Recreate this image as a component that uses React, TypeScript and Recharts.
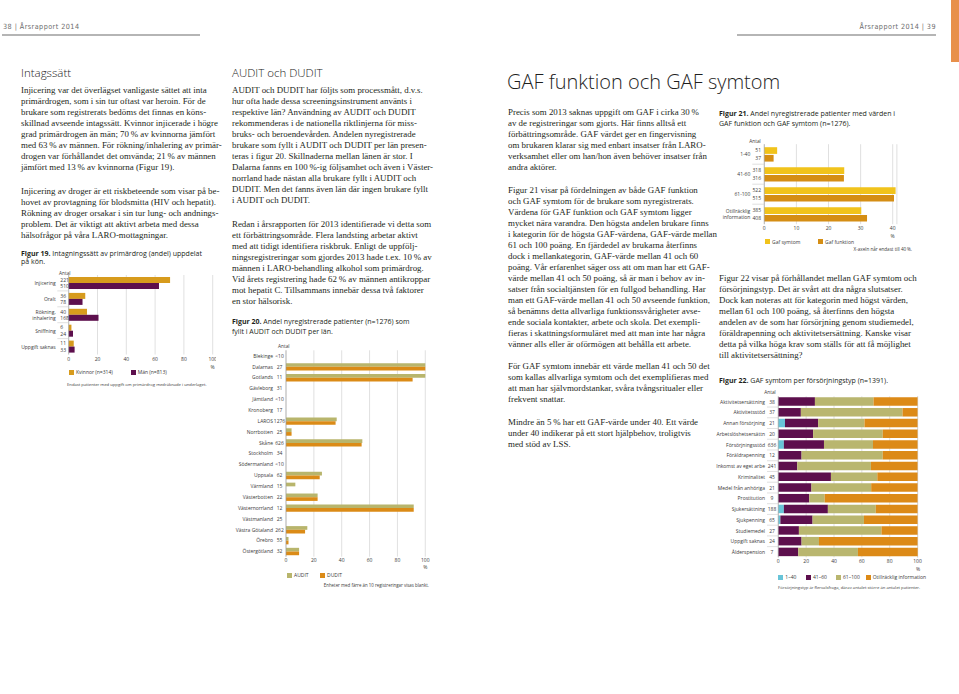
import React from 'react';
import { BarChart, Bar, XAxis, YAxis, CartesianGrid } from 'recharts';

const SANS = '"Open Sans", "Noto Sans", sans-serif';
const SERIF = '"Liberation Serif", "DejaVu Serif", serif';
const NARROW = '"Liberation Sans Narrow", "DejaVu Sans Condensed", sans-serif';
const GRID = '#cbcbcb';
const LABEL = '#3a3a3a';
const INK = '#231f20';

// Figur 19 - intagningssätt
const intakeCategories = ['Injicering', 'Oralt', 'Rökning,\ninhalering', 'Sniffning', 'Uppgift saknas'];
const womenCounts = ['221', '36', '40', '6', '11'];
const menCounts = ['510', '78', '168', '24', '33'];
const womenShare = [70.4, 11.5, 12.7, 1.9, 3.5];
const menShare = [62.7, 9.6, 20.7, 3.0, 4.1];
const percentTicks = [0, 20, 40, 60, 80, 100];

// Figur 20 - AUDIT/DUDIT per län
const counties = ['Blekinge', 'Dalarnas', 'Gotlands', 'Gävleborg', 'Jämtland', 'Kronoberg', 'LAROS', 'Norrbotten', 'Skåne', 'Stockholm', 'Södermanland', 'Uppsala', 'Värmland', 'Västerbotten', 'Västernorrland', 'Västmanland', 'Västra Götaland', 'Örebro', 'Östergötland'];
const countyCounts = ['<10', '27', '11', '31', '<10', '17', '1276', '25', '626', '34', '<10', '62', '15', '22', '12', '25', '262', '55', '32'];
const auditShare = [null, 100, 100, 0, null, 0, 36.4, 4, 54.8, 0, null, 25.8, 6.7, 22.7, 91.7, 0, 15.3, 1.8, 9.4];
const duditShare = [null, 100, 90.9, 0, null, 0, 35.6, 4, 54.3, 0, null, 24.2, 0, 22.7, 91.7, 0, 13.7, 1.8, 9.4];

// Figur 21 - GAF funktion och symtom
const gafGroups = ['1-40', '41-60', '61-100', 'Otillräcklig\ninformation'];
const symptomCounts = ['51', '318', '522', '385'];
const functionCounts = ['37', '316', '515', '408'];
const symptomShare = [4.0, 24.9, 40.9, 30.2];
const functionShare = [2.9, 24.8, 40.4, 32.0];
const gafTicks = [0, 10, 20, 30, 40];

// Figur 22 - GAF symtom per försörjningstyp
const supportTypes = ['Aktivitetsersättning', 'Aktivitetsstöd', 'Annan försörjning', 'Arbetslöshetsersättn', 'Försörjningsstöd', 'Föräldrapenning', 'Inkomst av eget arbe', 'Kriminalitet', 'Medel från anhöriga', 'Prostitution', 'Sjukersättning', 'Sjukpenning', 'Studiemedel', 'Uppgift saknas', 'Ålderspension'];
const supportCounts = ['38', '37', '21', '20', '636', '12', '241', '45', '21', '9', '188', '65', '27', '24', '7'];
const gafLow = [0, 0, 4.8, 0, 4.0, 0, 0, 0, 0, 0, 4.0, 1.5, 0, 0, 0];
const gafMid = [26.3, 16.2, 23.8, 25, 28.8, 16.7, 13.6, 37.8, 23.8, 22.2, 31.6, 23.1, 14.8, 16.7, 14.3];
const gafHigh = [42.1, 73, 33.3, 50, 35.2, 58.3, 52.9, 33.3, 42.9, 11.1, 34.4, 36.9, 59.3, 12.5, 42.9];
const gafMissing = [31.6, 10.8, 38.1, 25, 32.0, 25, 33.5, 28.9, 33.3, 66.7, 30.0, 38.5, 25.9, 70.8, 42.9];

const C = {
  women: '#d79b1d', men: '#5d0f4d',
  audit: '#b8b56c', dudit: '#db8b17',
  symptom: '#f1c31b', func: '#d58e14',
  low: '#68c4d8', mid: '#5d0f4d', high: '#b9b66f', missing: '#dc8a17',
};

// Brödtext
const intakeText1 = [
  'Injicering var det överlägset vanligaste sättet att inta',
  'primärdrogen, som i sin tur oftast var heroin. För de',
  'brukare som registrerats bedöms det finnas en köns-',
  'skillnad avseende intagssätt. Kvinnor injicerade i högre',
  'grad primärdrogen än män; 70\u2009% av kvinnorna jämfört',
  'med 63\u2009% av männen. För rökning/inhalering av primär-',
  'drogen var förhållandet det omvända; 21\u2009% av männen',
  'jämfört med 13\u2009% av kvinnorna (Figur 19).',
];
const intakeText2 = [
  'Injicering av droger är ett riskbeteende som visar på be-',
  'hovet av provtagning för blodsmitta (HIV och hepatit).',
  'Rökning av droger orsakar i sin tur lung- och andnings-',
  'problem. Det är viktigt att aktivt arbeta med dessa',
  'hälsofrågor på våra LARO-mottagningar.',
];
const auditText1 = [
  'AUDIT och DUDIT har följts som processmått, d.v.s.',
  'hur ofta hade dessa screeningsinstrument använts i',
  'respektive län? Användning av AUDIT och DUDIT',
  'rekommenderas i de nationella riktlinjerna för miss-',
  'bruks- och beroendevården. Andelen nyregistrerade',
  'brukare som fyllt i AUDIT och DUDIT per län presen-',
  'teras i figur 20. Skillnaderna mellan länen är stor. I',
  'Dalarna fanns en 100\u2009%-ig följsamhet och även i Väster-',
  'norrland hade nästan alla brukare fyllt i AUDIT och',
  'DUDIT. Men det fanns även län där ingen brukare fyllt',
  'i AUDIT och DUDIT.',
];
const auditText2 = [
  'Redan i årsrapporten för 2013 identifierade vi detta som',
  'ett förbättringsområde. Flera landsting arbetar aktivt',
  'med att tidigt identifiera riskbruk. Enligt de uppfölj-',
  'ningsregistreringar som gjordes 2013 hade t.ex. 10\u2009% av',
  'männen i LARO-behandling alkohol som primärdrog.',
  'Vid årets registrering hade 62\u2009% av männen antikroppar',
  'mot hepatit C. Tillsammans innebär dessa två faktorer',
  'en stor hälsorisk.',
];
const gafText1 = [
  'Precis som 2013 saknas uppgift om GAF i cirka 30\u2009%',
  'av de registreringar som gjorts. Här finns alltså ett',
  'förbättringsområde. GAF värdet ger en fingervisning',
  'om brukaren klarar sig med enbart insatser från LARO-',
  'verksamhet eller om han/hon även behöver insatser från',
  'andra aktörer.',
];
const gafText2 = [
  'Figur 21 visar på fördelningen av både GAF funktion',
  'och GAF symtom för de brukare som nyregistrerats.',
  'Värdena för GAF funktion och GAF symtom ligger',
  'mycket nära varandra. Den högsta andelen brukare finns',
  'i kategorin för de högsta GAF-värdena, GAF-värde mellan',
  '61 och 100 poäng. En fjärdedel av brukarna återfinns',
  'dock i mellankategorin, GAF-värde mellan 41 och 60',
  'poäng. Vår erfarenhet säger oss att om man har ett GAF-',
  'värde mellan 41 och 50 poäng, så är man i behov av in-',
  'satser från socialtjänsten för en fullgod behandling. Har',
  'man ett GAF-värde mellan 41 och 50 avseende funktion,',
  'så benämns detta allvarliga funktionssvårigheter avse-',
  'ende sociala kontakter, arbete och skola. Det exempli-',
  'fieras i skattningsformuläret med att man inte har några',
  'vänner alls eller är oförmögen att behålla ett arbete.',
];
const gafText3 = [
  'För GAF symtom innebär ett värde mellan 41 och 50 det',
  'som kallas allvarliga symtom och det exemplifieras med',
  'att man har självmordstankar, svåra tvångsritualer eller',
  'frekvent snattar.',
];
const gafText4 = [
  'Mindre än 5\u2009% har ett GAF-värde under 40. Ett värde',
  'under 40 indikerar på ett stort hjälpbehov, troligtvis',
  'med stöd av LSS.',
];
const supportText = [
  'Figur 22 visar på förhållandet mellan GAF symtom och',
  'försörjningstyp. Det är svårt att dra några slutsatser.',
  'Dock kan noteras att för kategorin med högst värden,',
  'mellan 61 och 100 poäng, så återfinns den högsta',
  'andelen av de som har försörjning genom studiemedel,',
  'föräldrapenning och aktivitetsersättning. Kanske visar',
  'detta på vilka höga krav som ställs för att få möjlighet',
  'till aktivitetsersättning?',
];

type TProps = {
  x: number; y: number; size: number; children: React.ReactNode;
  align?: 'left' | 'right' | 'center'; font?: string; color?: string; weight?: number; style?: React.CSSProperties;
};

const T = ({ x, y, size, children, align = 'left', font = SANS, color = INK, weight = 400, style }: TProps) => (
  <div
    style={{
      position: 'absolute', left: x, top: y - size * 0.6, fontSize: size, lineHeight: `${size * 1.2}px`,
      fontFamily: font, color, fontWeight: weight, whiteSpace: 'nowrap',
      transform: align === 'right' ? 'translateX(-100%)' : align === 'center' ? 'translateX(-50%)' : undefined,
      ...style,
    }}
  >
    {children}
  </div>
);

const Para = ({ x, y, lines }: { x: number; y: number; lines: string[] }) => (
  <>
    {lines.map((l, i) => (
      <T key={i} x={x} y={y + i * 11} size={8.9} font={SERIF}>{l}</T>
    ))}
  </>
);

const Swatch = ({ x, y, color, label }: { x: number; y: number; color: string; label: string }) => (
  <>
    <div style={{ position: 'absolute', left: x, top: y - 2.5, width: 5, height: 5, background: color }} />
    <T x={x + 7} y={y} size={5} color={LABEL}>{label}</T>
  </>
);

const tickStyle = { fontSize: 5, fill: LABEL, fontFamily: SANS };

const Fig19Tick = (props: any) => {
  const { x, y, payload } = props;
  const i = intakeCategories.indexOf(payload.value);
  const lines = String(payload.value).split('\n');
  return (
    <g fontFamily={SANS} fontSize={5} fill={LABEL}>
      {lines.map((l, k) => (
        <text key={k} x={x - 13} y={y + (k - (lines.length - 1) / 2) * 6} textAnchor="end" dominantBaseline="central">{l}</text>
      ))}
      <text x={x - 8.4} y={y - 3.2} dominantBaseline="central">{womenCounts[i]}</text>
      <text x={x - 8.4} y={y + 3.2} dominantBaseline="central">{menCounts[i]}</text>
      {i > 0 && <line x1={x - 11.4} x2={x} y1={y - 7.95} y2={y - 7.95} stroke={GRID} strokeWidth={0.6} />}
    </g>
  );
};

const Fig20Tick = (props: any) => {
  const { x, y, payload } = props;
  const i = counties.indexOf(payload.value);
  return (
    <g fontFamily={SANS} fontSize={5} fill={LABEL}>
      <text x={x - 13} y={y} textAnchor="end" dominantBaseline="central">{payload.value}</text>
      <text x={x - 6.5} y={y} textAnchor="middle" dominantBaseline="central">{countyCounts[i]}</text>
    </g>
  );
};

const Fig21Tick = (props: any) => {
  const { x, y, payload } = props;
  const i = gafGroups.indexOf(payload.value);
  const lines = String(payload.value).split('\n');
  return (
    <g fontFamily={SANS} fontSize={5} fill={LABEL}>
      {lines.map((l, k) => (
        <text key={k} x={x - 14} y={y + (k - (lines.length - 1) / 2) * 6} textAnchor="end" dominantBaseline="central">{l}</text>
      ))}
      <text x={x - 3.3} y={y - 3.9} textAnchor="end" dominantBaseline="central">{symptomCounts[i]}</text>
      <text x={x - 3.3} y={y + 3.8} textAnchor="end" dominantBaseline="central">{functionCounts[i]}</text>
      {i > 0 && <line x1={x - 12} x2={x} y1={y - 10} y2={y - 10} stroke={GRID} strokeWidth={0.6} />}
    </g>
  );
};

const Fig22Tick = (props: any) => {
  const { x, y, payload } = props;
  const i = supportTypes.indexOf(payload.value);
  return (
    <g fontFamily={SANS} fontSize={5} fill={LABEL}>
      <text x={x - 13.3} y={y} textAnchor="end" dominantBaseline="central">{payload.value}</text>
      <text x={x - 6.3} y={y} textAnchor="middle" dominantBaseline="central">{supportCounts[i]}</text>
      {i > 0 && <line x1={x - 11.3} x2={x} y1={y - 5.37} y2={y - 5.37} stroke={GRID} strokeWidth={0.6} />}
    </g>
  );
};

const fig19Data = intakeCategories.map((name, i) => ({ name, women: womenShare[i], men: menShare[i] }));
const fig20Data = counties.map((name, i) => ({ name, audit: auditShare[i], dudit: duditShare[i] }));
const fig21Data = gafGroups.map((name, i) => ({ name, symptom: symptomShare[i], func: functionShare[i] }));
const fig22Data = supportTypes.map((name, i) => ({ name, low: gafLow[i], mid: gafMid[i], high: gafHigh[i], missing: gafMissing[i] }));

const axisLine = { stroke: '#9a9a9a', strokeWidth: 0.6 };

const App = () => (
  <div style={{ position: 'absolute', left: 0, top: 0, width: 959, height: 694, background: '#fff', overflow: 'hidden' }}>
    {/* sidhuvud */}
    <T x={3} y={27} size={7.2} color="#6d6d6d" font={NARROW} style={{ letterSpacing: 0.45 }}>38 | Årsrapport 2014</T>
    <T x={936} y={27} size={7.2} align="right" color="#6d6d6d" font={NARROW} style={{ letterSpacing: 0.45 }}>Årsrapport 2014 | 39</T>
    <div style={{ position: 'absolute', left: 2, top: 34, width: 198, height: 1.5, background: '#b5b5b5' }} />
    <div style={{ position: 'absolute', left: 737, top: 34, width: 199, height: 1.5, background: '#b5b5b5' }} />
    <div style={{ position: 'absolute', left: 951, top: 0, width: 8, height: 62, background: '#e8904b' }} />

    {/* vänster spalt */}
    <T x={21} y={73} size={11.5} weight={300} color="#222">Intagssätt</T>
    <Para x={21} y={90} lines={intakeText1} />
    <Para x={21} y={191} lines={intakeText2} />

    <T x={21} y={254} size={7}><b>Figur 19.</b> Intagningssätt av primärdrog (andel) uppdelat</T>
    <T x={21} y={262.5} size={7}>på kön.</T>
    <T x={59} y={274} size={4.8} color={LABEL}>Antal</T>
    <div style={{ position: 'absolute', left: 0, top: 270 }}>
      <BarChart width={216} height={94.5} data={fig19Data} layout="vertical" margin={{ top: 5, right: 3.3, bottom: 0, left: 0 }} barGap={0} barSize={6}>
        <CartesianGrid horizontal={false} stroke={GRID} strokeWidth={0.6} />
        <XAxis type="number" domain={[0, 100]} ticks={percentTicks} interval={0} axisLine={false} tickLine={false} tickSize={0} tickMargin={3} height={10} tick={tickStyle} />
        <YAxis type="category" dataKey="name" width={68.7} axisLine={axisLine} tickLine={false} tickSize={0} tickMargin={0} interval={0} tick={<Fig19Tick />} />
        <Bar dataKey="women" fill={C.women} isAnimationActive={false} />
        <Bar dataKey="men" fill={C.men} isAnimationActive={false} />
      </BarChart>
    </div>
    <T x={212.7} y={366.7} size={5} align="center" color={LABEL}>%</T>
    <Swatch x={69} y={372} color={C.women} label="Kvinnor (n=314)" />
    <Swatch x={130.7} y={372} color={C.men} label="Män (n=813)" />
    <T x={67} y={385} size={4.2} color={LABEL}>Endast patienter med uppgift om primärdrog medräknade i underlaget.</T>

    {/* mittspalt */}
    <T x={232} y={73} size={11.5} weight={300} color="#222">AUDIT och DUDIT</T>
    <Para x={232} y={90} lines={auditText1} />
    <Para x={232} y={224} lines={auditText2} />

    <T x={232} y={322.3} size={7}><b>Figur 20.</b> Andel nyregistrerade patienter (n=1276) som</T>
    <T x={232} y={332.5} size={7}>fyllt i AUDIT och DUDIT per län.</T>
    <T x={278} y={347} size={4.8} color={LABEL}>Antal</T>
    <div style={{ position: 'absolute', left: 200, top: 345 }}>
      <BarChart width={230} height={221.7} data={fig20Data} layout="vertical" margin={{ top: 5.3, right: 4.7, bottom: 0, left: 0 }} barGap={0} barSize={3.7}>
        <CartesianGrid horizontal={false} stroke={GRID} strokeWidth={0.6} />
        <XAxis type="number" domain={[0, 100]} ticks={percentTicks} interval={0} axisLine={false} tickLine={false} tickSize={0} tickMargin={2} height={10} tick={tickStyle} />
        <YAxis type="category" dataKey="name" width={86} axisLine={axisLine} tickLine={false} tickSize={0} tickMargin={0} interval={0} tick={<Fig20Tick />} />
        <Bar dataKey="audit" fill={C.audit} isAnimationActive={false} />
        <Bar dataKey="dudit" fill={C.dudit} isAnimationActive={false} />
      </BarChart>
    </div>
    <T x={425.3} y={567} size={5} align="center" color={LABEL}>%</T>
    <Swatch x={287} y={575} color={C.audit} label="AUDIT" />
    <Swatch x={320} y={575} color={C.dudit} label="DUDIT" />
    <T x={429} y={586} size={4.4} align="right" color={LABEL}>Enheter med färre än 10 registreringar visas blankt.</T>

    {/* höger sida */}
    <T x={507} y={82} size={20} weight={300} color="#1f1f1f">GAF funktion och GAF symtom</T>
    <Para x={508} y={112} lines={gafText1} />
    <Para x={508} y={190} lines={gafText2} />
    <Para x={508} y={366} lines={gafText3} />
    <Para x={508} y={422} lines={gafText4} />

    <T x={719} y={114} size={7}><b>Figur 21.</b> Andel nyregistrerade patienter med värden i</T>
    <T x={719} y={124} size={7}>GAF funktion och GAF symtom (n=1276).</T>
    <T x={755} y={142} size={4.8} align="center" color={LABEL}>Antal</T>
    <div style={{ position: 'absolute', left: 700, top: 140 }}>
      <BarChart width={205} height={94.2} data={fig21Data} layout="vertical" margin={{ top: 4.2, right: 8.1, bottom: 0, left: 0 }} barGap={1} barSize={6.7}>
        <CartesianGrid horizontal={false} stroke={GRID} strokeWidth={0.6} />
        <XAxis type="number" domain={[0, 41.3]} ticks={gafTicks} interval={0} axisLine={false} tickLine={false} tickSize={0} tickMargin={2} height={10} tick={tickStyle} />
        <YAxis type="category" dataKey="name" width={64.3} axisLine={axisLine} tickLine={false} tickSize={0} tickMargin={0} interval={0} tick={<Fig21Tick />} />
        <Bar dataKey="symptom" fill={C.symptom} isAnimationActive={false} />
        <Bar dataKey="func" fill={C.func} isAnimationActive={false} />
      </BarChart>
    </div>
    <T x={892.7} y={236} size={5} align="center" color={LABEL}>%</T>
    <Swatch x={765} y={241.7} color={C.symptom} label="Gaf symtom" />
    <Swatch x={818} y={241.7} color={C.func} label="Gaf funktion" />
    <T x={912} y={250} size={4.6} align="right" color={LABEL}>{'X-axeln når endast till 40\u2009%.'}</T>

    <Para x={719} y={278} lines={supportText} />

    <T x={719} y={381} size={7}><b>Figur 22.</b> GAF symtom per försörjningstyp (n=1391).</T>
    <T x={770} y={392.7} size={4.8} align="center" color={LABEL}>Antal</T>
    <div style={{ position: 'absolute', left: 700, top: 390 }}>
      <BarChart width={225} height={177.4} data={fig22Data} layout="vertical" margin={{ top: 6.3, right: 7.3, bottom: 0, left: 0 }} barSize={8.5}>
        <CartesianGrid horizontal={false} stroke={GRID} strokeWidth={0.6} />
        <XAxis type="number" domain={[0, 100]} ticks={percentTicks} interval={0} axisLine={false} tickLine={false} tickSize={0} tickMargin={2} height={10} tick={tickStyle} />
        <YAxis type="category" dataKey="name" width={78.3} axisLine={axisLine} tickLine={false} tickSize={0} tickMargin={0} interval={0} tick={<Fig22Tick />} />
        <Bar dataKey="low" stackId="gaf" fill={C.low} isAnimationActive={false} />
        <Bar dataKey="mid" stackId="gaf" fill={C.mid} isAnimationActive={false} />
        <Bar dataKey="high" stackId="gaf" fill={C.high} isAnimationActive={false} />
        <Bar dataKey="missing" stackId="gaf" fill={C.missing} isAnimationActive={false} />
      </BarChart>
    </div>
    <T x={918} y={569} size={5} align="center" color={LABEL}>%</T>
    <Swatch x={778.3} y={577} color={C.low} label="1–40" />
    <Swatch x={806} y={577} color={C.mid} label="41–60" />
    <Swatch x={836} y={577} color={C.high} label="61–100" />
    <Swatch x={865.7} y={577} color={C.missing} label="Otillräcklig information" />
    <T x={778} y={588} size={4.2} color={LABEL}>Försörjningstyp är flervalsfråga, därav antalet större än antalet patienter.</T>
  </div>
);

export default App;
